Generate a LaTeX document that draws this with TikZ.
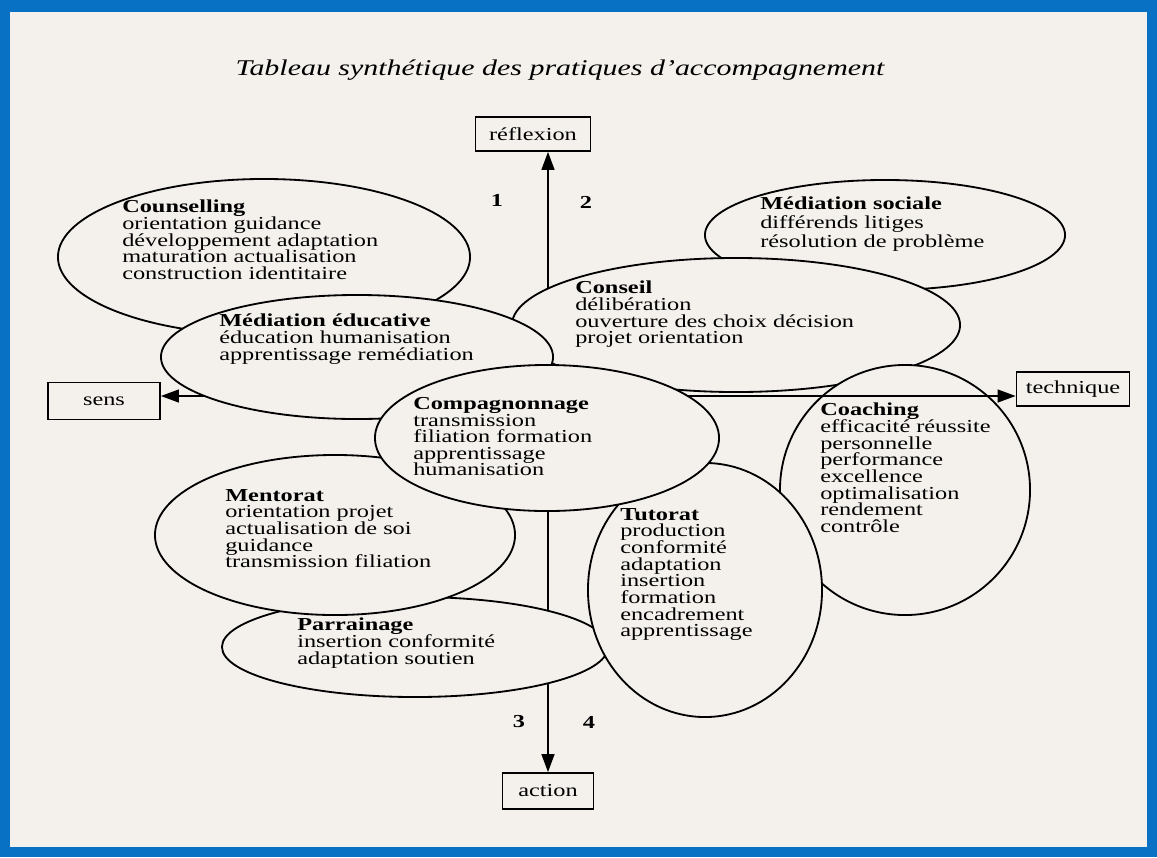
\documentclass[tikz,border=0pt]{standalone}
\usepackage{fontspec}
\setmainfont{Liberation Serif}[FakeStretch=1.33]
\usetikzlibrary{shapes.geometric}
\usetikzlibrary{arrows.meta}
\definecolor{paper}{RGB}{244,241,236}
\definecolor{cadre}{RGB}{8,113,196}
\setlength{\lineskiplimit}{-20pt}

\begin{document}
\begin{tikzpicture}[x=0.025cm, y=-0.025cm,
  zone/.style={ellipse, draw, line width=1.3pt, fill=paper, inner sep=0pt},
  txt/.style={anchor=north west, align=left, inner sep=0pt, font=\fontsize{13}{11.83}\selectfont},
  pole/.style={draw, line width=1.2pt, inner sep=0pt, font=\fontsize{13}{11.83}\selectfont},
  axe/.style={line width=1.3pt, -{Triangle[length=0.45cm, width=0.32cm]}},
  num/.style={font=\fontsize{13}{11.83}\selectfont\bfseries}]

\useasboundingbox (0,0) rectangle (1157,857);
\fill[cadre] (0,0) rectangle (1157,857);
\fill[paper] (10,12) rectangle (1147,847);

\node[font=\fontsize{16}{19}\selectfont\itshape] (titre) at (560,70) {Tableau synthétique des pratiques d'accompagnement};

\node[pole, minimum width=2.875cm, minimum height=0.85cm] (reflexion) at (533,134) {réflexion};
\node[pole, minimum width=2.8cm, minimum height=0.925cm] (sens) at (104,401) {sens};
\node[pole, minimum width=2.825cm, minimum height=0.85cm] (technique) at (1073,389) {technique};
\node[pole, minimum width=2.275cm, minimum height=0.9cm] (action) at (548,791) {action};

\coordinate (centre) at (548,396);
\draw[axe] (centre) -- (centre |- reflexion.south);
\draw[axe] (centre) -- (centre |- action.north);
\draw[axe] (centre) -- (sens.east |- centre);

\node[num] (n1) at (497,200) {1};
\node[num] (n2) at (586,202) {2};
\node[num] (n3) at (519,722) {3};
\node[num] (n4) at (589,722) {4};

\node[zone, minimum width=10.3cm, minimum height=3.9cm] (counselling) at (264,257) {};
\node[txt] (counselling-t) at (122,200) {\textbf{Counselling}\\orientation guidance\\développement adaptation\\maturation actualisation\\construction identitaire};

\node[zone, minimum width=9cm, minimum height=2.75cm] (medsociale) at (885,235) {};
\node[txt, font=\fontsize{13}{13.3}\selectfont] (medsociale-t) at (760,197) {\textbf{Médiation sociale}\\différends litiges\\résolution de problème};

\node[zone, minimum width=11.2cm, minimum height=3.35cm] (conseil) at (736,325) {};
\node[txt] (conseil-t) at (575,281) {\textbf{Conseil}\\délibération\\ouverture des choix décision\\projet orientation};

\node[zone, minimum width=6.25cm, minimum height=6.25cm] (coaching) at (905,490) {};
\node[txt] (coaching-t) at (820,403) {\textbf{Coaching}\\efficacité réussite\\personnelle\\performance\\excellence\\optimalisation\\rendement\\contrôle};

\draw[axe] (centre) -- (technique.west |- centre);

\node[zone, minimum width=9.8cm, minimum height=3.1cm] (mededuc) at (357,357) {};
\node[txt] (mededuc-t) at (219,314) {\textbf{Médiation éducative}\\éducation humanisation\\apprentissage remédiation};

\node[zone, minimum width=9.65cm, minimum height=2.5cm] (parrainage) at (415,647) {};
\node[zone, minimum width=9cm, minimum height=4cm] (mentorat) at (335,535) {};
\node[txt] (parrainage-t) at (297,618) {\textbf{Parrainage}\\insertion conformité\\adaptation soutien};
\node[txt] (mentorat-t) at (225,489) {\textbf{Mentorat}\\orientation projet\\actualisation de soi\\guidance\\transmission filiation};

\node[zone, minimum width=5.85cm, minimum height=6.35cm] (tutorat) at (705,590) {};
\node[txt] (tutorat-t) at (620,508) {\textbf{Tutorat}\\production\\conformité\\adaptation\\insertion\\formation\\encadrement\\apprentissage};

\node[zone, minimum width=8.6cm, minimum height=3.65cm] (compagnonnage) at (547,438) {};
\node[txt] (compagnonnage-t) at (413,397) {\textbf{Compagnonnage}\\transmission\\filiation formation\\apprentissage\\humanisation};
\end{tikzpicture}
\end{document}
